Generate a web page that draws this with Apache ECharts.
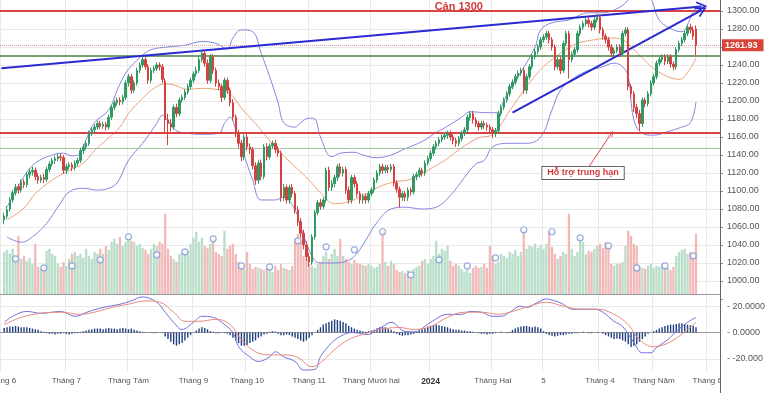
<!DOCTYPE html>
<html><head><meta charset="utf-8">
<script src="https://cdn.jsdelivr.net/npm/echarts@6/dist/echarts.min.js"></script>
<style>html,body{margin:0;padding:0;background:#fff}#c{width:765px;height:393px}</style>
</head><body><div id="c"></div>
<script>
// ---- data (daily candles, Jun 2023 - May 2024) ----
const opens = [
1068,1072,1080,1090,1098,1105,1101,1110,1107,1118,
1121,1123,1116,1112,1115,1113,1124,1130,1134,1136,
1138,1137,1123,1127,1129,1126,1131,1134,1145,1149,
1153,1164,1168,1171,1175,1172,1174,1171,1182,1193,
1198,1201,1199,1204,1220,1227,1212,1220,1234,1240,
1246,1238,1223,1234,1236,1240,1238,1222,1179,1175,
1171,1193,1186,1201,1204,1210,1216,1223,1230,1234,
1246,1253,1242,1223,1249,1234,1220,1216,1204,1223,
1212,1198,1182,1164,1153,1138,1160,1149,1146,1128,
1112,1131,1116,1149,1138,1150,1153,1146,1142,1093,
1104,1090,1104,1097,1079,1066,1053,1040,1027,1021,
1049,1076,1087,1083,1090,1123,1104,1108,1115,1127,
1120,1124,1101,1090,1115,1108,1097,1090,1094,1090,
1097,1101,1112,1120,1127,1123,1126,1124,1127,1109,
1102,1093,1097,1093,1101,1099,1116,1118,1123,1120,
1131,1136,1142,1149,1153,1157,1160,1162,1164,1160,
1156,1153,1158,1164,1168,1182,1186,1179,1175,1171,
1175,1173,1171,1168,1164,1167,1186,1193,1201,1208,
1216,1221,1227,1231,1234,1212,1227,1238,1249,1255,
1260,1268,1271,1275,1268,1260,1238,1246,1234,1264,
1275,1246,1252,1257,1275,1282,1286,1290,1286,1282,
1290,1293,1279,1272,1268,1260,1253,1256,1260,1253,
1275,1279,1216,1208,1193,1186,1175,1201,1197,1208,
1220,1227,1242,1246,1249,1244,1249,1241,1238,1257,
1264,1268,1275,1282,1279,1280];
const closes = [
1072,1079,1090,1098,1104,1101,1110,1107,1118,1121,
1123,1116,1112,1115,1113,1124,1130,1134,1136,1138,
1137,1123,1127,1129,1126,1131,1134,1145,1149,1153,
1164,1168,1171,1175,1172,1174,1171,1182,1193,1198,
1201,1199,1204,1220,1227,1212,1220,1234,1240,1246,
1238,1223,1234,1236,1240,1238,1224,1179,1175,1171,
1193,1186,1201,1204,1210,1216,1223,1230,1234,1246,
1253,1242,1223,1249,1234,1220,1216,1204,1223,1212,
1198,1182,1164,1153,1138,1160,1149,1146,1128,1112,
1131,1116,1149,1138,1150,1153,1146,1142,1093,1104,
1090,1104,1097,1079,1066,1053,1040,1027,1021,1049,
1076,1087,1083,1090,1123,1104,1108,1115,1127,1120,
1124,1101,1090,1115,1108,1097,1090,1094,1090,1097,
1101,1112,1120,1127,1123,1126,1124,1127,1109,1102,
1093,1097,1093,1101,1099,1116,1118,1123,1120,1131,
1136,1142,1149,1153,1157,1160,1162,1164,1160,1156,
1153,1158,1164,1168,1182,1186,1179,1175,1171,1175,
1173,1171,1168,1164,1167,1186,1193,1201,1208,1216,
1221,1227,1231,1234,1212,1227,1238,1249,1255,1260,
1268,1271,1275,1268,1260,1238,1246,1234,1264,1275,
1246,1252,1257,1275,1282,1286,1290,1286,1282,1290,
1293,1279,1272,1268,1260,1253,1256,1260,1253,1275,
1279,1216,1208,1193,1186,1175,1201,1197,1208,1220,
1227,1242,1246,1249,1244,1249,1241,1238,1257,1264,
1268,1275,1282,1279,1272,1261.93];
const highs = [
1076,1083,1093,1101,1108,1108,1113,1113,1121,1125,
1127,1126,1120,1118,1119,1127,1133,1137,1139,1141,
1142,1140,1130,1132,1132,1134,1137,1148,1152,1156,
1167,1171,1174,1178,1178,1177,1177,1185,1196,1201,
1204,1204,1207,1223,1230,1230,1223,1237,1243,1249,
1249,1241,1237,1239,1243,1243,1241,1225,1186,1180,
1196,1197,1204,1207,1213,1219,1226,1233,1238,1250,
1256,1256,1246,1252,1252,1237,1224,1219,1226,1226,
1215,1202,1185,1168,1157,1163,1164,1153,1149,1132,
1134,1135,1152,1153,1153,1156,1157,1150,1145,1108,
1107,1107,1108,1100,1083,1070,1057,1044,1031,1052,
1079,1090,1091,1093,1126,1127,1112,1118,1130,1131,
1127,1127,1105,1118,1118,1111,1100,1097,1097,1100,
1104,1115,1123,1130,1130,1129,1129,1130,1130,1112,
1105,1100,1100,1104,1104,1119,1121,1126,1126,1134,
1139,1145,1152,1156,1160,1163,1165,1167,1167,1163,
1159,1161,1167,1171,1185,1189,1189,1182,1178,1178,
1178,1176,1174,1171,1170,1189,1196,1204,1211,1219,
1224,1230,1234,1237,1237,1230,1241,1252,1258,1263,
1271,1274,1278,1278,1271,1263,1249,1249,1267,1278,
1278,1255,1260,1278,1285,1289,1293,1293,1289,1293,
1297,1296,1282,1275,1271,1263,1259,1263,1263,1278,
1282,1282,1219,1211,1197,1190,1204,1204,1211,1223,
1230,1245,1249,1252,1252,1252,1252,1244,1260,1267,
1271,1278,1285,1286,1283,1284];
const lows = [
1063,1069,1077,1087,1095,1097,1098,1103,1104,1114,
1117,1112,1108,1109,1109,1110,1121,1127,1130,1133,
1133,1119,1119,1124,1122,1123,1128,1131,1141,1146,
1150,1161,1165,1168,1169,1169,1167,1168,1179,1190,
1195,1195,1196,1201,1216,1208,1209,1217,1231,1237,
1235,1219,1220,1231,1233,1234,1220,1164,1151,1166,
1168,1182,1183,1198,1201,1207,1213,1220,1227,1231,
1243,1238,1219,1220,1230,1216,1212,1199,1201,1208,
1194,1178,1160,1148,1133,1134,1145,1141,1124,1107,
1108,1112,1113,1134,1135,1147,1142,1138,1088,1089,
1086,1086,1093,1075,1061,1048,1035,1022,1016,1018,
1046,1073,1079,1080,1087,1100,1100,1104,1111,1116,
1116,1097,1086,1086,1104,1093,1086,1086,1086,1087,
1094,1098,1109,1117,1119,1120,1120,1121,1105,1098,
1082,1089,1089,1089,1095,1096,1112,1115,1116,1117,
1128,1133,1139,1146,1150,1154,1157,1158,1156,1152,
1149,1150,1155,1161,1165,1178,1175,1171,1167,1168,
1169,1167,1164,1159,1160,1164,1183,1190,1198,1205,
1213,1218,1224,1228,1208,1208,1224,1235,1246,1252,
1257,1265,1268,1264,1256,1234,1235,1230,1231,1261,
1225,1243,1249,1254,1272,1279,1283,1282,1278,1279,
1287,1275,1268,1264,1256,1249,1250,1253,1249,1250,
1272,1212,1203,1188,1181,1167,1171,1193,1194,1205,
1217,1224,1239,1243,1240,1241,1237,1234,1235,1254,
1261,1265,1272,1275,1268,1251];
const volumes = [
630,660,600,675,570,870,525,570,495,540,
450,750,405,375,420,645,675,600,570,450,
405,480,420,525,600,630,570,600,540,675,
570,525,630,600,675,600,720,660,780,825,
750,855,720,780,855,795,780,720,750,690,
660,600,675,750,720,780,750,1200,675,570,
525,480,600,630,660,645,750,840,930,780,
840,720,690,750,825,630,600,570,945,675,
720,750,600,480,420,375,630,450,375,405,
390,375,360,390,405,330,420,360,450,390,
375,360,420,825,900,780,570,525,450,420,
390,450,480,570,630,525,600,675,570,825,
570,525,480,450,510,465,450,435,420,450,
420,390,405,450,945,480,420,495,450,360,
330,345,315,360,300,375,405,420,495,525,
450,525,570,795,600,675,645,720,495,420,
450,420,375,330,360,315,390,420,390,405,
450,390,720,570,450,480,600,570,540,630,
600,660,570,630,960,675,720,705,750,690,
735,675,750,945,705,600,525,570,630,600,
1200,675,570,630,870,780,600,645,630,675,
720,750,690,780,720,450,420,450,450,480,
720,945,870,750,720,420,390,375,420,450,
390,420,405,450,420,390,360,405,570,630,
660,675,600,630,570,900];
const volAvgIdx = [4,14,24,34,44,54,64,74,84,94,104,114,124,134,144,154,164,174,184,194,204,214,224,234,244];
const volAvgVal = [525,390,420,510,855,585,630,825,420,405,795,705,660,930,285,510,420,540,960,930,840,720,390,420,570];
// Bollinger bands (20) read at points: [day index, value]
const bbUpper = [[1,1082],[7,1116],[11,1131],[17,1140],[21,1142],[24,1139],[27,1142],[29,1157],[32,1176],[37,1190],[40,1212],[43,1231],[46,1242],[49,1251],[52,1257],[58,1260],[64,1262],[70,1266],[75,1264],[79,1258],[81,1270],[84,1279],[88,1277],[91,1253],[94,1227],[97,1198],[99,1176],[103,1171],[105,1176],[108,1181],[110,1180],[112,1160],[116,1138],[119,1142],[124,1143],[127,1140],[132,1137],[137,1140],[142,1147],[148,1155],[153,1165],[157,1172],[162,1182],[165,1188],[171,1187],[175,1187],[177,1201],[182,1227],[188,1260],[190,1279],[194,1287],[200,1290],[207,1298],[211,1298],[216,1301],[221,1312],[225,1330],[229,1314],[232,1290],[237,1279],[240,1277],[243,1292],[245,1306]];
const bbMid = [[1,1068],[7,1081],[11,1097],[17,1112],[23,1123],[28,1131],[32,1145],[37,1159],[41,1171],[44,1186],[49,1203],[53,1214],[57,1219],[60,1218],[65,1213],[70,1214],[75,1213],[80,1208],[84,1192],[89,1175],[94,1156],[98,1142],[103,1127],[108,1112],[112,1098],[117,1086],[122,1088],[127,1095],[133,1105],[138,1110],[144,1113],[150,1123],[156,1134],[162,1148],[168,1159],[173,1163],[179,1189],[185,1216],[191,1238],[197,1253],[203,1264],[209,1268],[215,1270],[219,1268],[223,1257],[226,1248],[230,1236],[235,1227],[239,1224],[243,1236],[245,1248]];
const bbLower = [[1,1049],[6,1043],[10,1049],[15,1064],[20,1087],[23,1099],[28,1103],[33,1101],[37,1103],[40,1109],[44,1134],[49,1153],[54,1175],[56,1184],[58,1178],[61,1167],[65,1164],[70,1163],[76,1164],[78,1175],[80,1182],[82,1168],[84,1149],[88,1112],[91,1090],[96,1090],[99,1093],[103,1079],[105,1060],[108,1034],[110,1023],[112,1020],[117,1020],[122,1023],[125,1031],[128,1045],[132,1065],[137,1080],[142,1082],[148,1080],[153,1082],[158,1095],[163,1115],[167,1130],[170,1134],[173,1149],[179,1153],[185,1153],[190,1160],[194,1190],[197,1212],[202,1226],[207,1234],[211,1237],[216,1242],[219,1238],[221,1227],[223,1179],[226,1164],[230,1162],[235,1166],[239,1170],[243,1176],[245,1199]];
// MACD panel
const macdLine = [[0,7.7],[3,12.3],[8,16],[13,14.6],[20,16],[25,12.3],[30,16],[35,19],[41,21.5],[45,24],[49,27],[54,23],[57,15.4],[60,7.7],[63,2.3],[67,7.7],[70,12.3],[74,11.5],[77,7.7],[81,0],[83,-10.8],[87,-18.5],[90,-22],[94,-18.5],[96,-14.6],[99,-18.5],[103,-22],[106,-28.5],[110,-28],[112,-18.5],[116,-7.7],[119,-3],[123,0],[129,-1.5],[132,2.3],[134,4.6],[137,7.7],[142,0.8],[145,0.5],[151,7.7],[157,13.8],[162,13.8],[165,16],[169,15.4],[173,12.3],[176,12.3],[179,15.4],[183,20],[185,19],[189,23],[192,25.4],[195,24],[198,21.5],[201,17.7],[204,17.7],[209,17.7],[212,15.4],[216,8.5],[219,4.6],[223,-7.7],[226,-15.4],[229,-15.4],[231,-11.5],[235,-5.4],[238,0.8],[242,7.7],[245,11.5]];
const signalLine = [[0,6],[6,11.5],[13,14.6],[20,15.4],[27,13.8],[33,16],[38,19],[44,21.5],[50,24],[55,23],[60,15.4],[64,8.5],[69,8.5],[75,10],[80,6],[84,-5.4],[89,-14.6],[94,-17],[99,-17],[104,-19],[109,-26],[112,-23],[117,-13],[122,-5.4],[127,-1.5],[132,1.5],[135,3],[140,3.8],[145,2.3],[151,4.6],[157,11.5],[163,15.4],[169,15.4],[175,13.8],[180,16],[186,20],[192,23],[198,20],[204,17.7],[210,17.7],[216,13.8],[221,6],[225,-5.4],[230,-10.8],[236,-7],[242,2.3],[245,7.7]];
const histogram = [
3.5,4,4.5,4.5,5,4.5,4,4,4,3.5,3,2.5,2,
1,0.5,
-0.5,-1,-1,-1.5,-1,-1,-0.5,-1,-1.5,-1,-0.5,-0.5,0.5,1,1.5,
2,2.5,3,3,3,2.5,3,3.5,3,3,2.5,3,3.5,3,2.5,3,2,1.5,1,0.5,
0.3,0,-0.3,-0.5,-0.3,0,-0.5,
-3,-5,-7,-9,-10,-9,-8,-6,-4,-2,
0,1.5,3,4,3.5,2.5,1,
0.5,-0.5,-0.5,0,-0.5,-1,-2,
-4,-6,-8,-10,-10,-9.5,-8,-7,-6,-4,-3,-1.5,-1,
0.5,1,0.5,
-1,-2,-2,-1.5,-2,-3,-4,-5,-6,-7,-6,
-4,-2,0,
2,4,6,7,8,9,10,9.5,9,8,7,
5,4,3,2,1.5,1,0.5,1,1.5,2,3,4,
4,4,3,2,1,
-1,-2,-2.5,-2,-2,-1.5,-1,0.5,1.5,
2.5,3.5,4.5,5,5.5,6,5.5,5,4.5,4,3,
2.5,2,2,1.5,1.5,1,1,0.5,0,
-0.5,-1,-1,-1.5,-1,-1,-0.5,0,0.5,0,-0.5,0.5,
2,3,4,4.5,5,5,4.5,4,4.5,4,3,
1,-1,-2,-2.5,-3,-2.5,-2,-2,-1.5,-1,-1,-0.5,-0.5,0,0.5,0,-0.5,-0.5,
0,0.3,0,
-1,-2,-3,-4,-5,-4.5,-5,
-6,-7,-9,-11,-10,-9,-7,-5,-3,
-1,0,1,
2,3,4,5,5.5,6,6,6.5,7,7,6.5,6,5.5,5,4];
// x-axis month ticks (day index of month start) and labels
const monthIdx = [-1,22,44,67,86,108,130,151,173,191,211,230,249];
const monthLabels = ['Tháng 6','Tháng 7','Tháng Tám','Tháng 9','Tháng 10','Tháng 11','Tháng Mười hai','2024','Tháng Hai','5','Tháng 4','Tháng Năm','Tháng 6'];
// drawn levels / annotations
const resistance = 1300, greenLevel = 1250, supportLevel = 1165, greenLevel2 = 1148, lastPrice = 1261.93;
const trend1 = [[-1,1236.5],[247,1305]];
const trend2 = [[180,1187],[247,1301]];
const supportArrow = [[206.5,1126.5],[214.5,1164]];
const labelResist = {text:'Cản 1300', at:[160.5,1304]};
const labelSupport = {text:'Hỗ trợ trung hạn', at:[205,1120]};

// ---- build ----
const N = 255, OFF = 1;
const cats = new Array(N).fill('');
monthIdx.forEach((d,i)=>{ cats[d+OFF] = monthLabels[i]; });
const isTick = (i)=> cats[i] !== '';
const shift = (arr)=>arr.map(p=>[p[0]+OFF,p[1]]);
const pad = ['-'];
const candleData = pad.concat(opens.map((o,i)=>[o,closes[i],lows[i],highs[i]]));
const UP='#2f9a63', DOWN='#d4423f';
const volData = pad.concat(volumes.map((v,i)=>({value:v,itemStyle:{color: closes[i]>=opens[i] ? '#b9dec9' : '#f2b9b9'}})));
const volAvg = volAvgIdx.map((d,i)=>[d+OFF,volAvgVal[i]]);
const histData = pad.concat(histogram);
const chev = 'path://M0,9 L5,0 L10,9 L8.6,9.8 L5,3 L1.4,9.8 Z';
const font = 'Liberation Sans, Arial, sans-serif';

const xBase = (gi, showLabel)=>({
  type:'category', gridIndex:gi, data:cats, boundaryGap:true,
  axisTick:{show:false},
  axisLine:{show: gi!==0, lineStyle:{color:'#9a9a9a'}},
  axisLabel:{show:showLabel, interval:(i)=>isTick(i), fontSize:8, color:'#555', margin:5, fontFamily:font,
    hideOverlap:false, showMinLabel:true, showMaxLabel:true,
    formatter:(v)=> v==='2024' ? '{b|2024}' : v, rich:{b:{fontWeight:'bold', color:'#333', fontSize:8.5}}},
  splitLine:{show:true, interval:(i)=>isTick(i), lineStyle:{color:'#e9e9e9', width:1}}
});

const PMIN = 980, PMAX = 1312.2;
const priceSplitColors = [];
for (let v=PMIN; v<=1300; v+=20) priceSplitColors.push(v===PMIN ? 'rgba(0,0,0,0)' : '#e9e9e9');
priceSplitColors.push('rgba(0,0,0,0)');

const gridBase = {left:0, right:45, outerBoundsMode:'none', containLabel:false};
const option = {
  animation:false,
  backgroundColor:'#fff',
  textStyle:{fontFamily:font},
  grid:[
    Object.assign({top:0, height:299}, gridBase),
    Object.assign({top:207, height:87}, gridBase),
    Object.assign({top:293, height:79}, gridBase)
  ],
  xAxis:[ xBase(0,false), xBase(1,false), xBase(2,true) ],
  yAxis:[
    {gridIndex:0, position:'right', min:PMIN, max:PMAX, interval:20,
     axisLine:{show:false}, axisTick:{show:true, length:3, lineStyle:{color:'#888'}},
     axisLabel:{fontSize:9, color:'#555', margin:7, fontFamily:font, showMaxLabel:false,
       formatter:(v)=> (v<=PMIN || v>1300.5) ? '' : v.toFixed(2)},
     splitLine:{show:true, lineStyle:{color:priceSplitColors}}},
    {gridIndex:1, min:0, max:1300, show:false, splitLine:{show:false}},
    {gridIndex:2, position:'right', min:-30, max:30, interval:10,
     axisLine:{show:false}, axisTick:{show:false},
     axisLabel:{fontSize:9, color:'#555', margin:7, fontFamily:font,
       formatter:(v)=> v===20 ? '- 20.0000' : v===0 ? '- 0.0000' : v===-20 ? '- -20.000' : ''},
     splitLine:{show:true, lineStyle:{color:['rgba(0,0,0,0)','#e9e9e9','rgba(0,0,0,0)','rgba(0,0,0,0)','rgba(0,0,0,0)','#e9e9e9','rgba(0,0,0,0)']}}}
  ],
  series:[
    {type:'bar', name:'vol', xAxisIndex:1, yAxisIndex:1, data:volData, barWidth:'82%', z:1},
    {type:'scatter', name:'volavg', xAxisIndex:1, yAxisIndex:1, data:volAvg, symbol:'circle', symbolSize:6,
     itemStyle:{color:'#fff', borderColor:'#7b9ad6', borderWidth:1.2}, z:3},
    {type:'line', name:'bbU', xAxisIndex:0, yAxisIndex:0, data:shift(bbUpper), smooth:0.4, showSymbol:false,
     lineStyle:{color:'#8585e0', width:1}, z:4},
    {type:'line', name:'bbL', xAxisIndex:0, yAxisIndex:0, data:shift(bbLower), smooth:0.4, showSymbol:false,
     lineStyle:{color:'#8585e0', width:1}, z:4},
    {type:'line', name:'bbM', xAxisIndex:0, yAxisIndex:0, data:shift(bbMid), smooth:0.4, showSymbol:false,
     lineStyle:{color:'#eaa37c', width:1}, z:4},
    {type:'candlestick', name:'price', xAxisIndex:0, yAxisIndex:0, data:candleData, barWidth:2,
     itemStyle:{color:UP, color0:DOWN, borderColor:UP, borderColor0:DOWN, borderWidth:1}, z:5,
     markLine:{silent:true, symbol:['none','none'], animation:false, label:{show:false},
       data:[
        {yAxis:resistance, lineStyle:{color:'#d94343', width:2, type:'solid'}},
        {yAxis:greenLevel, lineStyle:{color:'#4a7f45', width:1.5, type:'solid'}},
        {yAxis:supportLevel, lineStyle:{color:'#d94343', width:2, type:'solid'}},
        {yAxis:greenLevel2, lineStyle:{color:'#a6c2a2', width:1, type:'solid'}},
        {yAxis:lastPrice, lineStyle:{color:'#d99a9a', width:1, type:'dotted'},
          label:{show:true, position:'end', formatter:'1261.93', backgroundColor:'#d9453b', color:'#fff',
                 fontSize:9, fontWeight:'bold', padding:[2,6,1,3], distance:2, fontFamily:font}},
        [{coord:[trend1[0][0]+OFF,trend1[0][1]], symbol:'none'},{coord:[trend1[1][0]+OFF,trend1[1][1]], symbol:chev, symbolSize:[11,11], lineStyle:{color:'#2a2ad2', width:2, type:'solid'}}],
        [{coord:[trend2[0][0]+OFF,trend2[0][1]], symbol:'none'},{coord:[trend2[1][0]+OFF,trend2[1][1]], symbol:chev, symbolSize:[11,11], lineStyle:{color:'#2a2ad2', width:2, type:'solid'}}],
        [{coord:[supportArrow[0][0]+OFF,supportArrow[0][1]], symbol:'none'},{coord:[supportArrow[1][0]+OFF,supportArrow[1][1]], symbol:chev, symbolSize:[6,6], lineStyle:{color:'#d44', width:1, type:'solid'}}]
       ]},
     markPoint:{silent:true, animation:false, symbol:'rect', symbolSize:1, itemStyle:{color:'rgba(0,0,0,0)'},
       data:[
        {coord:[labelResist.at[0]+OFF,labelResist.at[1]], label:{show:true, position:'inside', formatter:labelResist.text,
          color:'#d33a3a', fontWeight:'bold', fontSize:11, fontFamily:font}},
        {coord:[labelSupport.at[0]+OFF,labelSupport.at[1]], label:{show:true, position:'inside', formatter:labelSupport.text,
          color:'#d33a3a', fontWeight:'bold', fontSize:9, fontFamily:font, backgroundColor:'#fff', borderColor:'#666', borderWidth:1, padding:[2,5,1,5]}}
       ]}
    },
    {type:'bar', name:'hist', xAxisIndex:2, yAxisIndex:2, data:histData, barWidth:1.4, itemStyle:{color:'#223f7e'}, z:2},
    {type:'line', name:'macd', xAxisIndex:2, yAxisIndex:2, data:shift(macdLine), smooth:0.4, showSymbol:false,
     lineStyle:{color:'#7070dc', width:1}, z:3},
    {type:'line', name:'signal', xAxisIndex:2, yAxisIndex:2, data:shift(signalLine), smooth:0.4, showSymbol:false,
     lineStyle:{color:'#ea8a7c', width:1}, z:3}
  ],
  graphic:[
    {type:'rect', shape:{x:721, y:374, width:44, height:19}, style:{fill:'#fff'}, z:100},
    {type:'line', shape:{x1:720.5, y1:0, x2:720.5, y2:393}, style:{stroke:'#666', lineWidth:1}, z:101}
  ]
};
const chart = echarts.init(document.getElementById('c'), null, {renderer:'canvas'});
chart.setOption(option);
</script></body></html>
